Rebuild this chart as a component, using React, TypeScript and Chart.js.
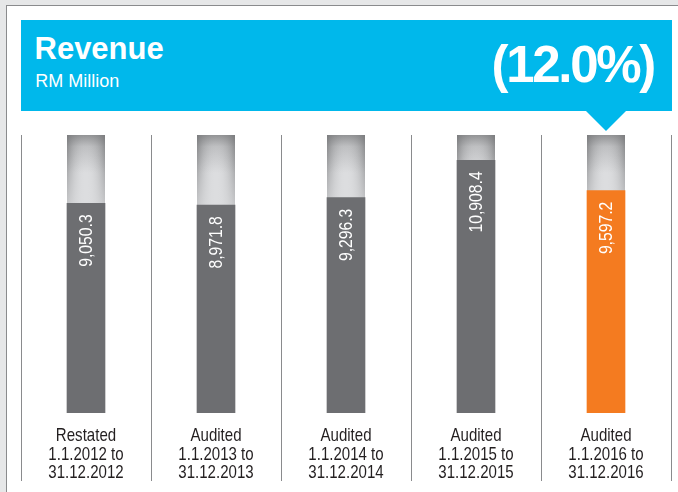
import React, { useEffect, useRef } from 'react';
import { Chart, registerables } from 'chart.js';

Chart.register(...registerables);

// ---- data ----
const periodTypes = ['Restated', 'Audited', 'Audited', 'Audited', 'Audited'];
const periodStarts = ['1.1.2012 to', '1.1.2013 to', '1.1.2014 to', '1.1.2015 to', '1.1.2016 to'];
const periodEnds = ['31.12.2012', '31.12.2013', '31.12.2014', '31.12.2015', '31.12.2016'];
const revenue = [9050.3, 8971.8, 9296.3, 10908.4, 9597.2];
const valueLabels = ['9,050.3', '8,971.8', '9,296.3', '10,908.4', '9,597.2'];
const barColors = ['#6d6e71', '#6d6e71', '#6d6e71', '#6d6e71', '#f47b20'];
const tubeTop = [12000, 12000, 12000, 12000, 12000];
const yMin = 0;
const yMax = 12000;
const title = 'Revenue';
const subtitle = 'RM Million';
const changeLabel = '(12.0%)';

const categories = periodTypes.map((t, i) => [t, periodStarts[i], periodEnds[i]]);

const FONT_SANS = '"Liberation Sans", Arial, Helvetica, sans-serif';
const BLUE = '#00b8eb';

const tubePlugin = {
  id: 'tubePlugin',
  beforeDatasetDraw(chart: any, args: any) {
    if (args.index !== 1) return;
    const ctx = chart.ctx as CanvasRenderingContext2D;
    args.meta.data.forEach((el: any) => {
      const { x, y, base, width } = el.getProps(['x', 'y', 'base', 'width'], true);
      const l = x - width / 2;
      const h = base - y;
      ctx.save();
      ctx.fillStyle = '#dcdddf';
      ctx.fillRect(l, y, width, h);
      const half = width / 2;
      for (let i = 0; i < Math.ceil(width); i++) {
        const dx = Math.abs(i + 0.5 - half) / half;
        const e = Math.pow(dx, 2.2);
        const vg = ctx.createLinearGradient(0, y, 0, y + 75);
        vg.addColorStop(0, `rgba(115,116,118,${0.75 * e})`);
        vg.addColorStop(1, `rgba(115,116,118,${0.18 * e})`);
        ctx.fillStyle = vg;
        ctx.fillRect(l + i, y, 1, h);
      }
      const tg = ctx.createLinearGradient(0, y, 0, y + 38);
      tg.addColorStop(0, 'rgba(115,116,118,0.7)');
      tg.addColorStop(0.3, 'rgba(115,116,118,0.28)');
      tg.addColorStop(1, 'rgba(115,116,118,0)');
      ctx.fillStyle = tg;
      ctx.fillRect(l, y, width, Math.min(38, h));
      ctx.restore();
    });
    return false;
  },
};

const valueLabelPlugin = {
  id: 'valueLabelPlugin',
  afterDatasetsDraw(chart: any) {
    const meta = chart.getDatasetMeta(0);
    const ctx = chart.ctx as CanvasRenderingContext2D;
    meta.data.forEach((el: any, i: number) => {
      const { x, y } = el.getProps(['x', 'y'], true);
      ctx.save();
      ctx.translate(x + 5.5, y + 11);
      ctx.rotate(-Math.PI / 2);
      ctx.scale(0.86, 1);
      ctx.fillStyle = '#ffffff';
      ctx.font = `18.3px ${FONT_SANS}`;
      ctx.textAlign = 'right';
      ctx.textBaseline = 'alphabetic';
      ctx.fillText(valueLabels[i], 0, 0);
      ctx.restore();
    });
  },
};

// draws the x-axis category labels (condensed) at the x scale's tick positions
const categoryLabelPlugin = {
  id: 'categoryLabelPlugin',
  afterDraw(chart: any) {
    const xs = chart.scales.x;
    const ctx = chart.ctx as CanvasRenderingContext2D;
    const labels = chart.data.labels as string[][];
    labels.forEach((lines, i) => {
      const px = xs.getPixelForTick(i);
      lines.forEach((line, j) => {
        ctx.save();
        ctx.translate(px, xs.top + 28 + j * 18.5);
        ctx.scale(0.81, 1);
        ctx.fillStyle = '#231f20';
        ctx.font = `18.6px ${FONT_SANS}`;
        ctx.textAlign = 'center';
        ctx.textBaseline = 'alphabetic';
        ctx.fillText(line, 0, 0);
        ctx.restore();
      });
    });
  },
};

export default function App() {
  const canvasRef = useRef<HTMLCanvasElement | null>(null);

  useEffect(() => {
    if (!canvasRef.current) return;
    const chart = new Chart(canvasRef.current, {
      type: 'bar',
      data: {
        labels: categories,
        datasets: [
          {
            label: 'Revenue',
            data: revenue,
            backgroundColor: barColors,
            barThickness: 38,
            grouped: false,
            order: 1,
            borderWidth: 0,
          },
          {
            label: 'Scale',
            data: tubeTop,
            backgroundColor: '#dcdddf',
            barThickness: 38,
            grouped: false,
            order: 2,
            borderWidth: 0,
          },
        ],
      },
      options: {
        responsive: false,
        animation: false,
        layout: { padding: { top: 135, left: 21, right: 7, bottom: 0 } },
        plugins: {
          legend: { display: false },
          tooltip: { enabled: false },
        },
        scales: {
          x: {
            offset: true,
            grid: {
              offset: true,
              color: '#8a8b8d',
              lineWidth: 1,
              tickLength: 68,
              drawOnChartArea: true,
            },
            border: { display: false },
            ticks: { display: false, autoSkip: false },
            afterFit: (s: any) => {
              s.height = 79;
            },
          },
          y: { display: false, min: yMin, max: yMax },
        },
      } as any,
      plugins: [tubePlugin, valueLabelPlugin, categoryLabelPlugin],
    });
    return () => chart.destroy();
  }, []);

  return (
    <div
      style={{
        position: 'fixed',
        left: 0,
        top: 0,
        width: 678,
        height: 492,
        overflow: 'hidden',
        background: '#e6e7e8',
      }}
    >
      <div
        style={{
          position: 'absolute',
          left: 6,
          top: 5,
          width: 700,
          height: 520,
          background: '#ffffff',
          borderLeft: '1px solid #8a8b8d',
          borderTop: '1px solid #8a8b8d',
        }}
      />
      <canvas
        ref={canvasRef}
        width={678}
        height={492}
        style={{ position: 'absolute', left: 0, top: 0, width: 678, height: 492 }}
      />
      <div
        style={{
          position: 'absolute',
          left: 21,
          top: 20,
          width: 651,
          height: 91,
          background: BLUE,
        }}
      />
      <div
        style={{
          position: 'absolute',
          left: 586,
          top: 111,
          width: 0,
          height: 0,
          borderLeft: '20px solid transparent',
          borderRight: '20px solid transparent',
          borderTop: `20px solid ${BLUE}`,
        }}
      />
      <div
        style={{
          position: 'absolute',
          left: 34.5,
          top: 32.8,
          fontFamily: FONT_SANS,
          fontWeight: 700,
          fontSize: 31,
          lineHeight: '31px',
          color: '#ffffff',
          whiteSpace: 'nowrap',
        }}
      >
        {title}
      </div>
      <div
        style={{
          position: 'absolute',
          left: 35.3,
          top: 71.8,
          fontFamily: FONT_SANS,
          fontSize: 18,
          lineHeight: '18px',
          color: '#ffffff',
          whiteSpace: 'nowrap',
        }}
      >
        {subtitle}
      </div>
      <div
        style={{
          position: 'absolute',
          right: 24,
          top: 39.1,
          fontFamily: FONT_SANS,
          fontWeight: 700,
          fontSize: 51,
          lineHeight: '51px',
          letterSpacing: '-2.3px',
          color: '#ffffff',
          whiteSpace: 'nowrap',
        }}
      >
        {changeLabel}
      </div>
    </div>
  );
}
